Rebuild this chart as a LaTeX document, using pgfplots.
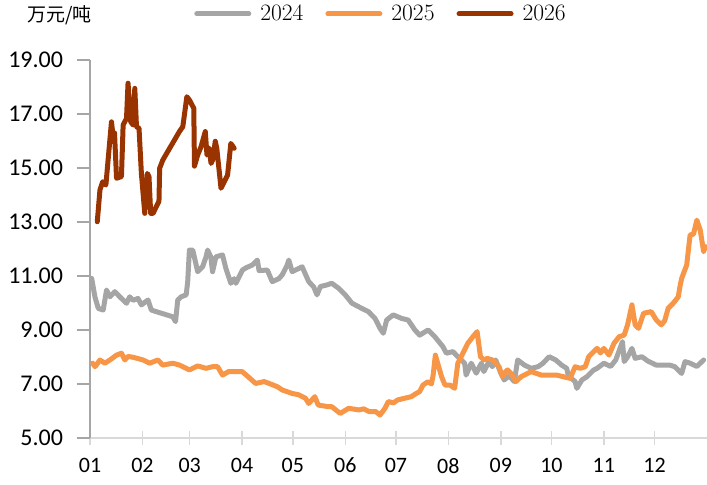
\documentclass[border=0pt]{standalone}
\usepackage{fontspec}
\usepackage{pgfplots}
\pgfplotsset{compat=1.18}
\newfontfamily\calfont{Carlito}
\newfontfamily\cjk{Noto Sans CJK SC}
\definecolor{c24}{RGB}{165,165,165}
\definecolor{c25}{RGB}{247,150,70}
\definecolor{c26}{RGB}{153,51,0}
\begin{document}
\begin{tikzpicture}
\useasboundingbox (0,0) rectangle (707bp,485bp);
\node[anchor=west,inner sep=0pt,font=\cjk\fontsize{19bp}{19bp}\selectfont] at (27bp,470bp) {万元/吨};
\begin{axis}[
    at={(90bp,47bp)}, anchor=south west,
    scale only axis, width=617bp, height=378bp,
    xmin=0, xmax=365, ymin=5, ymax=19,
    xtick={0,31,59,90,120,151,181,212,243,273,304,334},
    xticklabels={01,02,03,04,05,06,07,08,09,10,11,12},
    ytick={5,7,9,11,13,15,17,19},
    yticklabel={\pgfmathprintnumber[fixed,fixed zerofill,precision=2]{\tick}},
    /pgf/number format/assume math mode=true,
    xticklabel style={font=\calfont\fontsize{22bp}{22bp}\selectfont, yshift=-10bp},
    yticklabel style={font=\calfont\fontsize{24bp}{24bp}\selectfont, xshift=-17bp},
    axis lines=left, axis line style={-},
    x axis line style={draw=black!15, line width=1.5bp},
    y axis line style={draw=black!35, line width=1.2bp},
    tick align=center, major tick length=13bp,
    xtick style={draw=black!15, line width=1.5bp},
    ytick style={draw=black!35, line width=1.2bp, xshift=-6.5bp},
    legend style={draw=none, fill=none, at={(rel axis cs:0.4716,1.122)}, anchor=center,
        legend columns=3, font=\fontsize{23.5bp}{23.5bp}\selectfont,
        /tikz/every odd column/.append style={column sep=7bp},
        /tikz/every even column/.append style={column sep=20bp}},
    legend image code/.code={\draw[#1] (0bp,0bp) -- (52bp,0bp);},
    every axis plot/.append style={line width=5bp, line join=round, line cap=round},
]
% 2024
\addplot[c24] coordinates {
(1,10.91)(2.9,10.23)(4.9,9.80)(7.8,9.74)(9.8,10.48)(11.8,10.23)(14.7,10.42)(17.6,10.23)
(21.6,9.99)(23.5,10.23)(25.5,10.10)(28.4,10.17)(30.4,9.93)(34.3,10.11)(36.3,9.74)(39.2,9.68)
(49,9.49)(50.6,9.31)(51.9,10.11)(53.9,10.23)(56.9,10.30)(57.8,10.79)(58.8,11.96)(60.8,11.96)
(63.7,11.16)(66.6,11.34)(68.6,11.70)(69.6,11.96)(71.5,11.70)(72.5,11.16)(74.5,11.71)(78.4,11.78)
(80.3,11.30)(83.3,10.73)(85.3,10.90)(86.3,10.73)(90.2,11.22)(92.2,11.30)(96.1,11.41)(99,11.59)
(100,11.20)(104.9,11.22)(107.8,10.79)(111.7,10.90)(113.7,11.04)(116.6,11.40)(117.6,11.59)(119.6,11.16)
(125.5,11.34)(129.4,10.79)(132.3,10.60)(134.3,10.30)(136.3,10.61)(140.2,10.67)(143,10.73)(147,10.55)
(151,10.30)(155,9.99)(160.8,9.80)(164.7,9.68)(168.6,9.43)(171.6,9.06)(173.5,8.88)(175.5,9.37)
(179.4,9.56)(184.3,9.43)(188.2,9.37)(192.2,9.00)(195,8.81)(200,9.00)(204,8.75)(208.8,8.38)
(210.8,8.14)(214.7,8.20)(217.6,8.01)(221.6,7.77)(222.5,7.33)(225.5,7.77)(228.5,7.40)(231.5,7.77)
(233,7.46)(236,7.83)(238,7.64)(240,7.89)(243,7.40)(245,7.15)(248,7.30)(251,7.09)(253,7.89)
(257,7.70)(261,7.58)(265,7.64)(268,7.77)(271.6,8.01)(275.5,7.89)(279,7.70)(282,7.58)(283,7.30)
(287,7.09)(288,6.84)(291,7.15)(294,7.27)(298,7.52)(300,7.58)(304,7.77)(308,7.65)(311,7.89)
(315,8.57)(316,7.83)(318,8.00)(320.6,8.32)(322.5,7.95)(326.5,8.01)(330,7.85)(335,7.70)(343,7.70)
(346,7.64)(350,7.39)(352,7.83)(355,7.77)(359,7.65)(363,7.89)
};
\addlegendentry{2024}
% 2025
\addplot[c25] coordinates {
(1.6,7.77)(3,7.64)(5.9,7.89)(8.8,7.77)(11.8,7.89)(15.7,8.07)(18.6,8.14)(20.6,7.89)(22.5,8.02)
(25.5,7.99)(31.4,7.89)(35.3,7.77)(40.2,7.89)(43,7.70)(49,7.77)(53,7.70)(58.8,7.52)(63.7,7.67)
(68.6,7.58)(72.5,7.64)(75.5,7.64)(78.4,7.33)(82,7.46)(86,7.46)(90,7.46)(93,7.30)(98,7.02)
(103,7.09)(106.8,7.00)(110.8,6.90)(113.7,6.78)(119.6,6.65)(123.5,6.60)(127.5,6.47)(129.4,6.28)
(133,6.53)(135,6.22)(141,6.16)(143,6.16)(148,5.91)(153,6.10)(159,6.04)(162,6.08)(165,5.98)
(169,5.98)(171.6,5.85)(174.5,6.10)(176.5,6.35)(179.5,6.30)(182,6.41)(186,6.47)(190,6.53)
(193,6.65)(195,6.72)(197,6.96)(200,7.09)(202,7.00)(203,7.33)(204.3,8.07)(206,7.70)(208,7.27)
(210,6.96)(213,6.96)(215.7,6.84)(217.6,7.77)(220.6,8.14)(223.5,8.51)(226.5,8.75)(229,8.94)
(231,8.01)(233,7.89)(235,7.95)(238,7.89)(242,7.64)(244,7.27)(246,7.46)(247,7.52)(249,7.40)
(252,7.09)(255,7.27)(261,7.46)(267,7.33)(271,7.33)(276,7.33)(280,7.27)(284,7.21)(287,7.64)
(290,7.58)(293,7.64)(295,8.01)(300,8.32)(302,8.15)(304,8.32)(307,8.07)(310,8.51)(313,8.75)
(316,8.81)(318,9.19)(320.6,9.93)(322.5,9.19)(324.5,9.06)(327.5,9.62)(332,9.68)(335,9.37)
(338,9.19)(340,9.35)(342,9.80)(345,9.99)(348,10.23)(349,10.61)(350,10.91)(353,11.41)
(355,12.52)(357,12.55)(359,13.07)(361,12.70)(363,11.90)(364,12.09)
};
\addlegendentry{2025}
% 2026
\addplot[c26] coordinates {
(4.3,13.01)(5.9,14.19)(7.5,14.49)(9.4,14.37)(12.7,16.71)(13.7,16.16)(14.5,16.30)(15.7,14.62)
(18.6,14.68)(19.6,16.59)(21.6,16.84)(22.5,18.14)(24.1,16.71)(25.5,16.59)(26.5,17.95)(27.5,16.53)
(29,16.47)(30.4,14.80)(32.4,13.32)(33.9,14.80)(34.9,14.68)(35.9,13.32)(37.3,13.32)(40.8,13.77)
(41.2,14.99)(43.1,15.30)(52.9,16.35)(54.9,16.53)(57.3,17.64)(58.8,17.52)(61.4,17.21)(61.8,15.07)
(63.7,15.48)(65.7,15.79)(68.2,16.35)(69.2,15.48)(70.6,15.73)(71.6,15.17)(72.6,15.30)(74.1,15.99)
(75,15.73)(77.5,14.25)(81.4,14.74)(83.3,15.91)(85.3,15.73)
};
\addlegendentry{2026}
\end{axis}
\end{tikzpicture}
\end{document}
